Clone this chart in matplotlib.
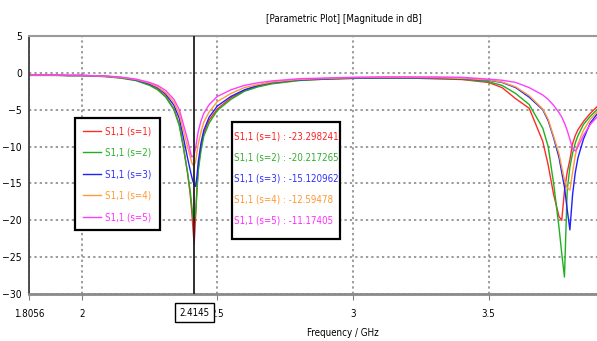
import matplotlib
matplotlib.use("Agg")
import matplotlib.pyplot as plt
from matplotlib.patches import Rectangle

plt.rcParams['font.family'] = ['DejaVu Sans']
plt.rcParams['font.stretch'] = 'condensed'

# frequency grid (GHz)
freq = [1.8056, 1.85, 1.9, 1.95, 2.0, 2.05, 2.1, 2.15, 2.2, 2.25, 2.28, 2.31, 2.34, 2.36,
        2.375, 2.39, 2.40, 2.405, 2.41, 2.4145, 2.42, 2.425, 2.43, 2.44, 2.45, 2.47, 2.5,
        2.55, 2.6, 2.65, 2.7, 2.8, 2.9, 3.0, 3.1, 3.2, 3.3, 3.4, 3.5, 3.55, 3.6, 3.65, 3.7,
        3.72, 3.74, 3.76, 3.77, 3.78, 3.79, 3.80, 3.81, 3.82, 3.83, 3.85, 3.875, 3.9]

s1 = [-0.3, -0.3, -0.3, -0.35, -0.35, -0.4, -0.5, -0.7, -1.0, -1.6, -2.2, -3.2, -4.9, -7.0,
      -10.0, -13.5, -16.5, -18.5, -21.0, -23.3, -19.5, -15.5, -12.8, -10.0, -8.2, -6.4, -4.9,
      -3.4, -2.4, -1.8, -1.4, -1.0, -0.85, -0.75, -0.7, -0.7, -0.8, -0.9, -1.3, -2.0, -3.5,
      -4.8, -9.3, -12.5, -16.5, -19.5, -20.0, -16.0, -13.5, -11.8, -9.6, -8.5, -7.7, -6.6,
      -5.5, -4.6]
s2 = [-0.35, -0.35, -0.35, -0.4, -0.4, -0.45, -0.55, -0.75, -1.05, -1.7, -2.3, -3.3, -5.0,
      -7.2, -10.2, -13.5, -16.0, -17.8, -19.5, -20.2, -19.0, -16.0, -13.2, -10.5, -8.6, -6.8,
      -5.1, -3.6, -2.5, -1.9, -1.5, -1.05, -0.85, -0.75, -0.7, -0.7, -0.75, -0.85, -1.2, -1.7,
      -2.8, -4.3, -7.5, -10.0, -15.0, -21.0, -24.5, -27.7, -16.0, -12.8, -10.9, -9.5, -8.5,
      -7.0, -5.9, -5.0]
s3 = [-0.3, -0.3, -0.3, -0.35, -0.35, -0.4, -0.5, -0.65, -0.95, -1.5, -2.0, -2.9, -4.4, -6.2,
      -8.8, -11.5, -13.2, -14.0, -14.7, -15.1, -15.4, -14.0, -12.0, -9.5, -7.8, -6.0, -4.5,
      -3.2, -2.3, -1.7, -1.3, -0.95, -0.8, -0.7, -0.65, -0.65, -0.7, -0.8, -1.0, -1.3, -2.0,
      -3.3, -5.0, -6.5, -8.8, -11.5, -13.5, -15.5, -18.5, -21.3, -16.5, -13.5, -11.5, -9.0,
      -6.8, -5.6]
s4 = [-0.3, -0.3, -0.3, -0.35, -0.35, -0.4, -0.5, -0.65, -0.9, -1.4, -1.9, -2.7, -4.0, -5.6,
      -7.8, -10.0, -11.4, -12.1, -12.5, -12.6, -12.0, -10.8, -9.6, -8.0, -6.7, -5.3, -3.9,
      -2.8, -2.0, -1.6, -1.25, -0.9, -0.75, -0.65, -0.6, -0.6, -0.65, -0.75, -0.95, -1.25,
      -1.9, -3.1, -4.9, -6.3, -8.6, -11.0, -12.8, -14.5, -15.6, -15.9, -13.5, -11.2, -9.6,
      -7.8, -6.3, -5.3]
s5 = [-0.3, -0.3, -0.3, -0.35, -0.35, -0.4, -0.45, -0.6, -0.85, -1.3, -1.7, -2.4, -3.6, -5.0,
      -7.0, -9.0, -10.6, -11.4, -11.3, -11.17, -10.2, -9.0, -7.9, -6.5, -5.5, -4.3, -3.2,
      -2.3, -1.7, -1.35, -1.1, -0.8, -0.7, -0.6, -0.55, -0.55, -0.55, -0.6, -0.85, -1.0,
      -1.3, -2.0, -3.0, -3.6, -4.4, -5.4, -6.0, -6.8, -7.8, -9.0, -10.3, -10.6, -10.0, -8.5,
      -7.0, -6.0]

series = [s1, s2, s3, s4, s5]
labels = ['S1,1 (s=1)', 'S1,1 (s=2)', 'S1,1 (s=3)', 'S1,1 (s=4)', 'S1,1 (s=5)']
line_colors = ['#ff2a2a', '#1fb01f', '#2020ff', '#ff9a3c', '#ff3cff']
text_colors = ['#ff2020', '#30b030', '#3030ff', '#ff9933', '#ff30ff']

marker_freq = 2.4145
marker_vals = ['-23.298241', '-20.217265', '-15.120962', '-12.59478', '-11.17405']

xticks = [1.8056, 2, 2.5, 3, 3.5]
xticklabels = ['1.8056', '2', '2.5', '3', '3.5']
yticks = [5, 0, -5, -10, -15, -20, -25, -30]

fs = 7

fig = plt.figure(figsize=(5.97, 3.41), dpi=100)
ax = fig.add_axes([29 / 597, 1 - 294 / 341, 568 / 597, 258 / 341])

for vals, lab, c in zip(series, labels, line_colors):
    ax.plot(freq, vals, color=c, lw=1.0, label=lab)

ax.set_xlim(1.8056, 3.9)
ax.set_ylim(-30, 5)
ax.set_xticks(xticks)
ax.set_xticklabels(xticklabels)
ax.set_yticks(yticks)
ax.tick_params(axis='x', length=4, color='#808080', labelsize=fs, pad=7)
ax.tick_params(axis='y', length=0, labelsize=7.5, pad=5)
ax.grid(True, color='#808080', linestyle=(0, (1.5, 2)), lw=1.1)
ax.set_axisbelow(True)

ax.spines['right'].set_visible(False)
ax.spines['top'].set_color('#9a9a9a')
ax.spines['top'].set_linewidth(1.5)
ax.spines['bottom'].set_color('#8a8a8a')
ax.spines['bottom'].set_linewidth(2)
ax.spines['left'].set_color('#404040')
ax.spines['left'].set_linewidth(1.3)

# marker line
ax.axvline(marker_freq, color='#202020', lw=1.3, zorder=3)
ax.text(marker_freq, -0.072, '2.4145', transform=ax.get_xaxis_transform(),
        ha='center', va='center', fontsize=fs, zorder=5,
        bbox=dict(boxstyle='square,pad=0.45', fc='white', ec='black', lw=1.0))

# legend
leg = ax.legend(loc='upper left', bbox_to_anchor=(0.081, 0.682), borderaxespad=0,
                fontsize=fs, labelcolor=text_colors, frameon=True, fancybox=False,
                edgecolor='black', framealpha=1, borderpad=0.85,
                handlelength=1.8, handletextpad=0.45, labelspacing=1.18)
leg.get_frame().set_linewidth(1.6)

# marker value box
ax.add_patch(Rectangle((0.357, 0.213), 0.19, 0.454, transform=ax.transAxes,
                       fc='white', ec='black', lw=1.6, zorder=4))
row_y = [0.612, 0.531, 0.448, 0.366, 0.283]
for y, lab, v, c in zip(row_y, labels, marker_vals, text_colors):
    ax.text(0.361, y, lab + ' : ' + v, transform=ax.transAxes, color=c,
            fontsize=fs, ha='left', va='center', zorder=5)

fig.text(344 / 597, 1 - 19 / 341, '[Parametric Plot] [Magnitude in dB]',
         ha='center', va='center', fontsize=fs)
fig.text(343 / 597, 1 - 333 / 341, 'Frequency / GHz', ha='center', va='center', fontsize=fs)

fig.savefig('out.png', dpi=100)
